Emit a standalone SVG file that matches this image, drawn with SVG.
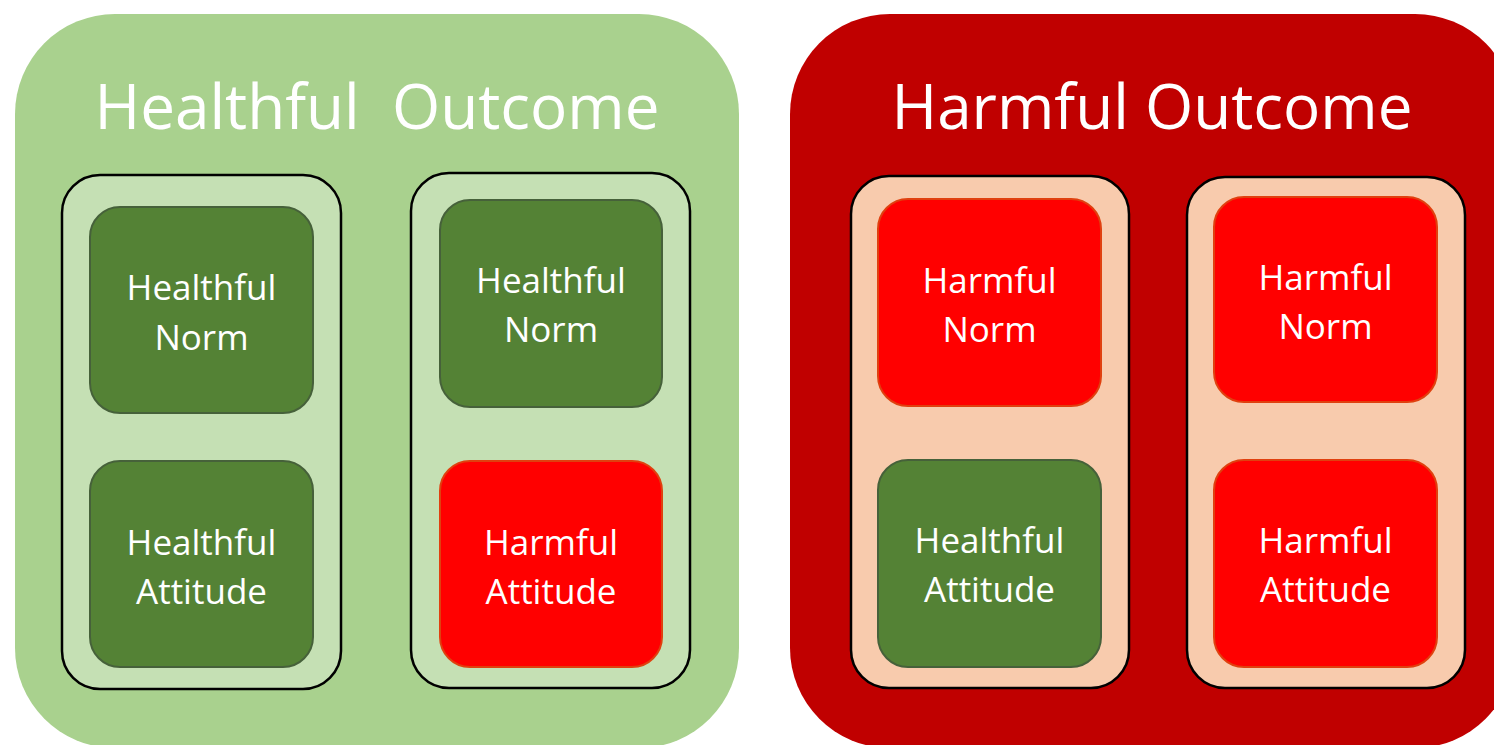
<svg xmlns="http://www.w3.org/2000/svg" width="1494" height="745" viewBox="0 0 1494 745">
<style>
.title{font-family:"Open Sans","Noto Sans","Liberation Sans",sans-serif;font-size:62px;fill:#FFFFFF;text-anchor:middle}
.lbl{font-family:"Open Sans","Noto Sans","Liberation Sans",sans-serif;font-size:35px;fill:#FFFFFF;text-anchor:middle}
.gOuter{fill:#A9D18E}
.rOuter{fill:#C00000}
.gInner{fill:#C5E0B4;stroke:#000000;stroke-width:2.5}
.rInner{fill:#F8CBAD;stroke:#000000;stroke-width:2.5}
.gNode{fill:#548235;stroke:#46613A;stroke-width:2}
.rNode{fill:#FF0000;stroke:#E0400F;stroke-width:2}
</style>
<rect width="1494" height="745" fill="#FFFFFF"/>
<g id="healthful-outcome">
<rect class="gOuter" x="15" y="14" width="724" height="734" rx="100" ry="100"/>
<text class="title" x="377" y="129" xml:space="preserve">Healthful  Outcome</text>
</g>
<g id="harmful-outcome">
<rect class="rOuter" x="790" y="14" width="725" height="734" rx="100" ry="100"/>
<text class="title" x="1152" y="129">Harmful Outcome</text>
</g>
<g id="group-g1">
<rect class="gInner" x="62" y="175" width="279" height="514" rx="38" ry="38"/>
</g>
<g id="group-g2">
<rect class="gInner" x="411" y="173" width="279" height="515" rx="38" ry="38"/>
</g>
<g id="group-r1">
<rect class="rInner" x="851" y="176" width="278" height="512" rx="38" ry="38"/>
</g>
<g id="group-r2">
<rect class="rInner" x="1187" y="177" width="278" height="511" rx="38" ry="38"/>
</g>
<g id="g1-norm">
<rect class="gNode" x="90" y="207" width="223" height="206" rx="30" ry="30"/>
<text class="lbl" x="201.5" y="300">Healthful</text>
<text class="lbl" x="201.5" y="350">Norm</text>
</g>
<g id="g1-attitude">
<rect class="gNode" x="90" y="461" width="223" height="206" rx="30" ry="30"/>
<text class="lbl" x="201.5" y="555">Healthful</text>
<text class="lbl" x="201.5" y="604">Attitude</text>
</g>
<g id="g2-norm">
<rect class="gNode" x="440" y="200" width="222" height="207" rx="30" ry="30"/>
<text class="lbl" x="551" y="293">Healthful</text>
<text class="lbl" x="551" y="342">Norm</text>
</g>
<g id="g2-attitude">
<rect class="rNode" x="440" y="461" width="222" height="206" rx="30" ry="30"/>
<text class="lbl" x="551" y="555">Harmful</text>
<text class="lbl" x="551" y="604">Attitude</text>
</g>
<g id="r1-norm">
<rect class="rNode" x="878" y="199" width="223" height="207" rx="30" ry="30"/>
<text class="lbl" x="989.5" y="293">Harmful</text>
<text class="lbl" x="989.5" y="342">Norm</text>
</g>
<g id="r1-attitude">
<rect class="gNode" x="878" y="460" width="223" height="207" rx="30" ry="30"/>
<text class="lbl" x="989.5" y="553">Healthful</text>
<text class="lbl" x="989.5" y="602">Attitude</text>
</g>
<g id="r2-norm">
<rect class="rNode" x="1214" y="197" width="223" height="205" rx="30" ry="30"/>
<text class="lbl" x="1325.5" y="290">Harmful</text>
<text class="lbl" x="1325.5" y="339">Norm</text>
</g>
<g id="r2-attitude">
<rect class="rNode" x="1214" y="460" width="223" height="207" rx="30" ry="30"/>
<text class="lbl" x="1325.5" y="553">Harmful</text>
<text class="lbl" x="1325.5" y="602">Attitude</text>
</g>
<g id="connectors"/>
</svg>
